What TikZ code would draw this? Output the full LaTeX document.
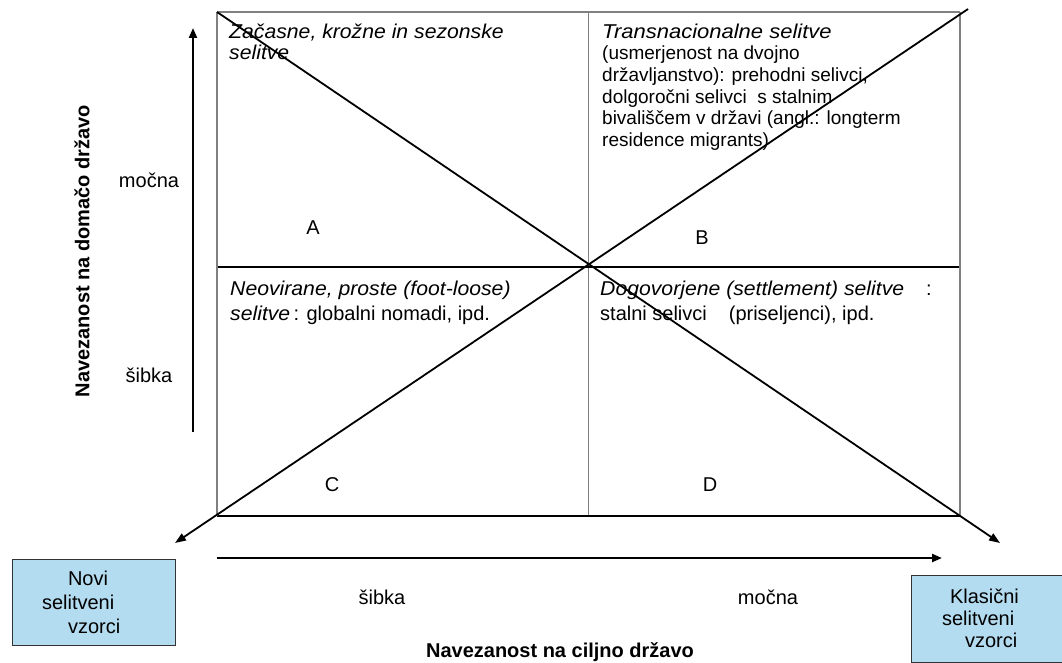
\documentclass[tikz,border=0pt]{standalone}
\usepackage{fontspec}
\setmainfont{Liberation Sans}
\usepackage{graphicx}
\usetikzlibrary{arrows.meta}
\definecolor{boxblue}{RGB}{180,220,240}
\newcommand\itw[1]{\scalebox{1.06}[1]{\itshape #1}}
\newcommand\firstline{\rule{0pt}{16pt}}
\begin{document}
\begin{tikzpicture}[x=1pt,y=-1pt,
  gridgray/.style={draw=black!50, line width=1.6pt},
  gridthin/.style={draw=black!50, line width=1pt},
  gridblack/.style={draw=black, line width=1.1pt},
  diag/.style={line width=1.8pt, -{Triangle[length=11pt,width=8pt]}},
  axisarrow/.style={line width=2.2pt, -{Triangle[length=10pt,width=8pt]}},
  quadtext/.style={anchor=north west, align=left, inner sep=0pt, font=\fontsize{20}{21.7}\selectfont},
  quadlow/.style={quadtext, font=\fontsize{20}{25}\selectfont},
  letter/.style={inner sep=0pt, font=\fontsize{20}{24}\selectfont},
  lab/.style={inner sep=0pt, font=\fontsize{20}{24}\selectfont},
  axtitle/.style={inner sep=0pt, font=\fontsize{20}{24}\selectfont\bfseries},
  bluebox/.style={draw=black!80, line width=1pt, fill=boxblue, align=left, inner ysep=0pt}
]
\useasboundingbox (0,0) rectangle (1062,663);

% grid corners
\coordinate (TL) at (217,12);
\coordinate (TR) at (960,12);
\coordinate (BL) at (217,516);
\coordinate (BR) at (960,516);
\coordinate (MT) at (588,12);
\coordinate (MB) at (588,516);
\coordinate (ML) at (217,267);
\coordinate (MR) at (960,267);

\draw[gridthin] (MT) -- (MB);
\draw[gridblack] (ML) -- (MR);
\draw[gridblack] (BL) -- (BR);
\draw[gridgray] (TL) -- (TR);
\draw[gridgray] (TR) -- (BR);
\draw[gridgray] (TL) -- (BL);

% quadrant texts (first baseline = y + 16)
\node[quadtext] (qa) at (229,22) {\firstline\itw{Začasne, krožne in sezonske}\\\itw{selitve}};
\node[quadtext, font=\fontsize{19}{21.7}\selectfont] (qb) at (602,22) {\firstline\scalebox{1.1}[1]{\fontsize{20}{21.7}\selectfont\itshape Transnacionalne selitve}\\
  (usmerjenost na dvojno\\
  državljanstvo): prehodni selivci,\\
  dolgoročni selivci\ \ s stalnim\\
  bivališčem v državi (angl.: longterm\\
  residence migrants)};
\node[quadlow] (qc) at (230,279) {\firstline\itw{Neovirane, proste (foot-loose)}\\\itw{selitve}\,: globalni nomadi, ipd.};
\node[quadlow] (qd) at (600,279) {\firstline\itw{Dogovorjene (settlement) selitve}\hspace*{22pt}:\\stalni selivci\hspace*{22pt}(priseljenci), ipd.};

% quadrant letters
\node[letter] (la) at (313,228) {A};
\node[letter] (lb) at (702,238) {B};
\node[letter] (lc) at (332,485) {C};
\node[letter] (ld) at (710,485) {D};

% diagonals
\coordinate (d1s) at (217,12);
\coordinate (d1e) at (1000,543);
\coordinate (d2s) at (968,9);
\coordinate (d2e) at (175,543);
\draw[diag] (d1s) -- (d1e);
\draw[diag] (d2s) -- (d2e);

% axes
\coordinate (vs) at (193,432);
\coordinate (ve) at (193,28);
\coordinate (hs) at (217,558);
\coordinate (he) at (942,558);
\draw[axisarrow] (vs) -- (ve);
\draw[axisarrow] (hs) -- (he);

% axis labels
\node[lab] (vstrong) at (149,180) {močna};
\node[lab] (vweak) at (149,375) {šibka};
\node[lab] (hweak) at (382,597) {šibka};
\node[lab] (hstrong) at (768,597) {močna};
\node[axtitle, rotate=90] (vtitle) at (82,251) {Navezanost na domačo državo};
\node[axtitle, anchor=base] (htitle) at (560,657) {Navezanost na ciljno državo};

% blue boxes
\node[bluebox, minimum width=163, minimum height=86, text width=103, inner xsep=30,
  font=\fontsize{20}{24}\selectfont] (novi) at (93.5,602)
  {\hspace*{26pt}Novi\\selitveni\\\hspace*{26pt}vzorci};
\node[bluebox, minimum width=151, minimum height=87, text width=89, inner xsep=31,
  font=\fontsize{20}{22}\selectfont] (klas) at (986.5,618.5)
  {\hspace*{8pt}Klasični\\selitveni\\\hspace*{23pt}vzorci};
\end{tikzpicture}
\end{document}
